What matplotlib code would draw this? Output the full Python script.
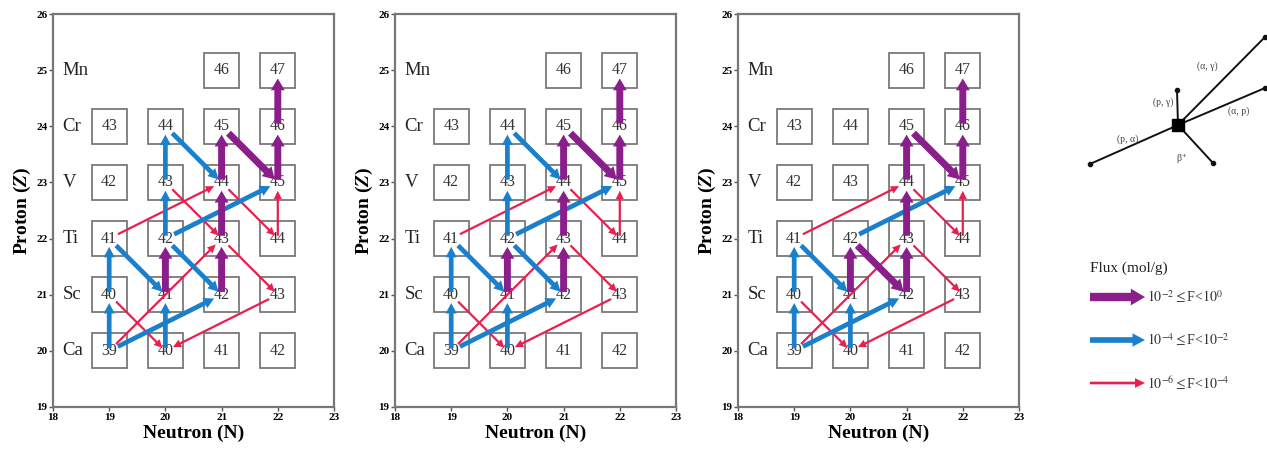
import matplotlib
matplotlib.use("Agg")
import matplotlib.pyplot as plt
from matplotlib.patches import Rectangle

plt.rcParams['font.family'] = ['Liberation Serif', 'DejaVu Serif']
plt.rcParams['mathtext.fontset'] = 'stix'

# nuclide chart: element rows (Z) and which neutron numbers are shown
elements = ['Ca', 'Sc', 'Ti', 'V', 'Cr', 'Mn']
protons = [20, 21, 22, 23, 24, 25]
neutrons_shown = [[19, 20, 21, 22], [19, 20, 21, 22], [19, 20, 21, 22],
                  [19, 20, 21, 22], [19, 20, 21, 22], [21, 22]]

# flux arrows per panel: (N_from, Z_from, N_to, Z_to, level)
# level 0: 1e-2..1, level 1: 1e-4..1e-2, level 2: 1e-6..1e-4
flows_a = [
    (19, 20, 19, 21, 1), (19, 21, 19, 22, 1), (19, 20, 21, 21, 1), (20, 20, 20, 21, 1),
    (19, 22, 20, 21, 1), (20, 22, 20, 23, 1), (20, 23, 20, 24, 1), (20, 24, 21, 23, 1),
    (20, 22, 21, 21, 1), (20, 22, 22, 23, 1),
    (20, 21, 20, 22, 0), (21, 21, 21, 22, 0), (21, 22, 21, 23, 0), (21, 23, 21, 24, 0),
    (21, 24, 22, 23, 0), (22, 23, 22, 24, 0), (22, 24, 22, 25, 0),
    (19, 22, 21, 23, 2), (19, 20, 21, 22, 2), (19, 21, 20, 20, 2), (22, 21, 20, 20, 2),
    (20, 23, 21, 22, 2), (21, 23, 22, 22, 2), (22, 22, 22, 23, 2), (21, 22, 22, 21, 2),
]
flows_b = [
    (19, 20, 19, 21, 1), (19, 21, 19, 22, 1), (19, 20, 21, 21, 1), (20, 20, 20, 21, 1),
    (19, 22, 20, 21, 1), (20, 22, 20, 23, 1), (20, 23, 20, 24, 1), (20, 24, 21, 23, 1),
    (20, 22, 21, 21, 1), (20, 22, 22, 23, 1),
    (20, 21, 20, 22, 0), (21, 21, 21, 22, 0), (21, 22, 21, 23, 0), (21, 23, 21, 24, 0),
    (21, 24, 22, 23, 0), (22, 23, 22, 24, 0), (22, 24, 22, 25, 0),
    (19, 22, 21, 23, 2), (19, 20, 21, 22, 2), (19, 21, 20, 20, 2), (22, 21, 20, 20, 2),
    (21, 23, 22, 22, 2), (22, 22, 22, 23, 2), (21, 22, 22, 21, 2),
]
flows_c = [
    (19, 20, 19, 21, 1), (19, 21, 19, 22, 1), (19, 20, 21, 21, 1), (20, 20, 20, 21, 1),
    (19, 22, 20, 21, 1), (20, 22, 22, 23, 1),
    (20, 21, 20, 22, 0), (20, 22, 21, 21, 0), (21, 21, 21, 22, 0), (21, 22, 21, 23, 0),
    (21, 23, 21, 24, 0), (21, 24, 22, 23, 0), (22, 23, 22, 24, 0), (22, 24, 22, 25, 0),
    (19, 22, 21, 23, 2), (19, 20, 21, 22, 2), (19, 21, 20, 20, 2), (22, 21, 20, 20, 2),
    (21, 23, 22, 22, 2), (22, 22, 22, 23, 2), (21, 22, 22, 21, 2),
]
panels = [flows_a, flows_b, flows_c]

level_labels = [r'$10^{-2}\leq$F<$10^{0}$', r'$10^{-4}\leq$F<$10^{-2}$', r'$10^{-6}\leq$F<$10^{-4}$']
reactions = ['(α, γ)', '(α, p)', '(p, γ)', '(p, α)', 'β$^{+}$']

colors = ['#8a1f8c', '#1b80cc', '#e8204f']
styles = ['simple,head_width=1.0,head_length=0.85,tail_width=0.5',
          'simple,head_width=0.8,head_length=0.75,tail_width=0.34',
          'simple,head_width=0.58,head_length=0.6,tail_width=0.16']

W, H = 1267, 457
fig = plt.figure(figsize=(W / 100, H / 100), dpi=100)

for k, flows in enumerate(panels):
    left = [53, 395, 738][k]
    ax = fig.add_axes([left / W, 1 - 407 / H, 281 / W, 393 / H])
    ax.set_xlim(18, 23)
    ax.set_ylim(19, 26)
    for s in ax.spines.values():
        s.set_color('#777777')
        s.set_linewidth(1.6)
    ax.tick_params(direction='out', length=3, width=1, color='#555555', labelsize=8, pad=1)
    for lab in ax.get_xticklabels() + ax.get_yticklabels():
        lab.set_fontweight('bold')
    ax.set_xlabel('Neutron (N)', fontsize=14, fontweight='bold', labelpad=2)
    ax.set_ylabel('Proton ($\\mathbfit{Z}$)', fontsize=14, fontweight='bold', labelpad=2)

    for el, z, ns in zip(elements, protons, neutrons_shown):
        ax.text(18.17, z, el, fontsize=13.5, va='center', ha='left', color='#222222')
        for n in ns:
            ax.add_patch(Rectangle((n - 0.31, z - 0.31), 0.62, 0.62, fill=False,
                                   edgecolor='#7a7a7a', lw=1.3, zorder=1))
            ax.text(n, z, str(n + z), fontsize=11.5, ha='center', va='center',
                    color='#333333', zorder=2)

    # draw weak flows first so strong ones sit on top
    for lvl in [2, 1, 0]:
        for n0, z0, n1, z1, l in flows:
            if l != lvl:
                continue
            vertical = (n0 == n1)
            beta = (n1 - n0 == 1 and z1 - z0 == -1)
            sa = 2 if vertical else 7
            sb = 3 if beta else 6
            ax.annotate('', xy=(n1, z1), xytext=(n0, z0),
                        arrowprops=dict(arrowstyle=styles[l], color=colors[l], lw=0,
                                        mutation_scale=10, shrinkA=sa, shrinkB=sb),
                        zorder=3 + (2 - l))

# right side: reaction key and flux legend
axr = fig.add_axes([1040 / W, 0, 227 / W, 1])
axr.set_xlim(1040, 1267)
axr.set_ylim(H, 0)
axr.axis('off')

cx, cy = 1178, 125
ends = [(1265, 37), (1265, 88), (1177, 90), (1090, 164), (1213, 163)]
lab_pos = [(1207, 66), (1239, 111), (1163, 102), (1128, 139), (1182, 159)]
for (ex, ey), (lx, ly), r in zip(ends, lab_pos, reactions):
    axr.plot([cx, ex], [cy, ey], color='#111111', lw=1.4)
    axr.plot(ex, ey, 'o', color='#111111', ms=3)
    axr.text(lx, ly, r, fontsize=7, ha='center', va='center', color='#444444')
axr.plot(cx, cy, 's', color='black', ms=8)

axr.text(1129, 268, 'Flux (mol/g)', fontsize=11, ha='center', va='center', color='#222222')
for i, (lab, c, st) in enumerate(zip(level_labels, colors, styles)):
    y = 297 + 43 * i
    axr.annotate('', xy=(1145, y), xytext=(1090, y),
                 arrowprops=dict(arrowstyle=st, color=c, lw=0, mutation_scale=12,
                                 shrinkA=0, shrinkB=0))
    axr.text(1147, y, lab, fontsize=10, ha='left', va='center', color='#333333')

fig.savefig('out.png', dpi=100)
